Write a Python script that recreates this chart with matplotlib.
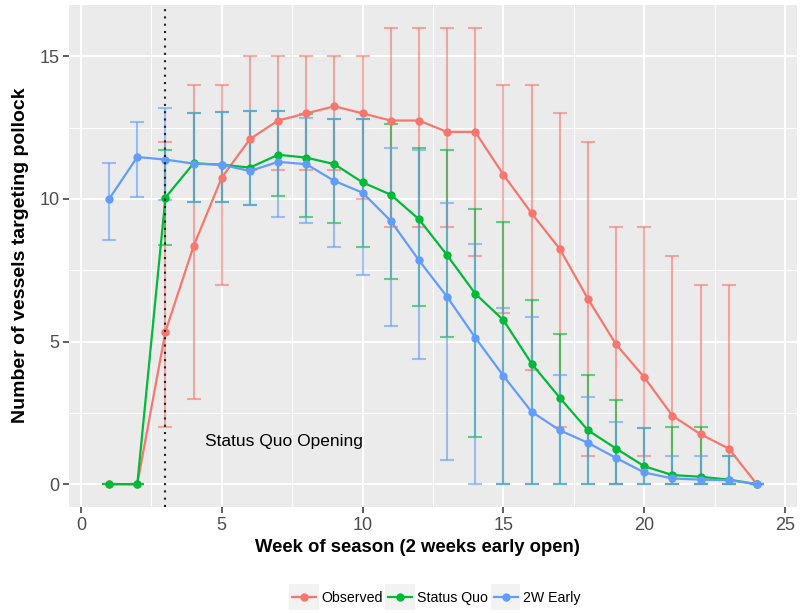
import matplotlib
matplotlib.use('Agg')
import matplotlib.pyplot as plt
from matplotlib.patches import Rectangle
from matplotlib.legend_handler import HandlerLine2D
from matplotlib.lines import Line2D

plt.rcParams['font.family'] = ['Liberation Sans', 'DejaVu Sans']

# ------------------------------------------------------------
# data
# ------------------------------------------------------------
weeks = list(range(1, 25))

observed = [0, 0, 5.35, 8.35, 10.75, 12.1, 12.75, 13.0, 13.25, 13.0, 12.75, 12.75,
            12.35, 12.35, 10.85, 9.5, 8.25, 6.5, 4.9, 3.75, 2.4, 1.75, 1.25, 0]
observed_lo = [0, 0, 2, 3, 7, 11, 11, 11, 11, 10, 9, 9, 9, 8, 6, 4, 2, 1, 0, 1, 0, 0, 0, 0]
observed_hi = [0, 0, 12, 14, 14, 15, 15, 15, 15, 15, 16, 16, 16, 16, 14, 14, 13, 12, 9, 9, 8, 7, 7, 0]

status_quo = [0, 0, 10.05, 11.25, 11.2, 11.1, 11.55, 11.45, 11.22, 10.58, 10.15, 9.29,
              8.03, 6.68, 5.75, 4.23, 3.03, 1.89, 1.25, 0.63, 0.32, 0.26, 0.16, 0]
status_quo_lo = [0, 0, 8.38, 9.9, 9.9, 9.78, 10.1, 9.35, 9.17, 8.3, 7.19, 6.24,
                 5.15, 1.64, 0, 0, 0, 0, 0, 0, 0, 0, 0, 0]
status_quo_hi = [0, 0, 11.7, 13.02, 13.05, 13.1, 13.07, 12.97, 12.79, 12.79, 12.64, 11.77,
                 11.71, 9.66, 9.19, 6.45, 5.25, 3.82, 2.94, 1.97, 2.0, 2.0, 1.0, 0]

early = [10.0, 11.47, 11.38, 11.24, 11.2, 10.98, 11.3, 11.22, 10.63, 10.22, 9.23, 7.85,
         6.57, 5.14, 3.8, 2.54, 1.89, 1.45, 0.92, 0.41, 0.2, 0.16, 0.14, 0]
early_lo = [8.55, 10.07, 9.98, 9.9, 9.9, 9.78, 9.37, 9.16, 8.3, 7.33, 5.55, 4.4,
            0.86, 0, 0, 0, 0, 0, 0, 0, 0, 0, 0, 0]
early_hi = [11.27, 12.69, 13.2, 13.02, 13.05, 13.1, 13.07, 12.85, 12.79, 12.79, 11.8, 11.71,
            9.86, 8.41, 6.16, 5.86, 3.82, 3.06, 2.18, 1.97, 1.0, 1.0, 1.0, 0]

series = [
    ('Observed', observed, observed_lo, observed_hi, '#F8766D'),
    ('Status Quo', status_quo, status_quo_lo, status_quo_hi, '#00BA38'),
    ('2W Early', early, early_lo, early_hi, '#619CFF'),
]

opening_week = 3
x_ticks = [0, 5, 10, 15, 20, 25]
y_ticks = [0, 5, 10, 15]


# legend key with the grey ggplot box behind it
class KeyHandler(HandlerLine2D):
    def create_artists(self, legend, orig_handle, xdescent, ydescent, width, height, fontsize, trans):
        box = Rectangle((-xdescent - 2, -ydescent - 6), width + 4, height + 12,
                        facecolor='#F2F2F2', edgecolor='none', transform=trans)
        arts = super().create_artists(legend, orig_handle, xdescent, ydescent, width, height, fontsize, trans)
        return [box] + list(arts)


fig = plt.figure(figsize=(8.01, 6.13), dpi=100)
ax = fig.add_axes([69 / 801, 1 - 507 / 613, 728 / 801, 502 / 613])
ax.set_facecolor('#EBEBEB')
for s in ax.spines.values():
    s.set_visible(False)

ax.set_xlim(-0.425, 25.425)
ax.set_ylim(-0.8, 16.8)
ax.set_xticks(x_ticks)
ax.set_yticks(y_ticks)
ax.set_xticks([2.5, 7.5, 12.5, 17.5, 22.5], minor=True)
ax.set_yticks([2.5, 7.5, 12.5], minor=True)
ax.grid(True, which='major', color='white', linewidth=1.4)
ax.grid(True, which='minor', color='white', linewidth=0.7)
ax.set_axisbelow(True)
ax.tick_params(which='major', length=4, width=1.1, color='#333333', labelsize=13,
               labelcolor='#4D4D4D', pad=3)
ax.tick_params(which='minor', length=0)

# error bars first, then lines and points
for name, vals, lo, hi, col in series:
    yerr = [[v - l for v, l in zip(vals, lo)], [h - v for v, h in zip(vals, hi)]]
    ax.errorbar(weeks, vals, yerr=yerr, fmt='none', ecolor=col, alpha=0.6,
                elinewidth=1.5, capsize=5, capthick=1.5, zorder=2)

handles = []
for name, vals, lo, hi, col in series:
    ln, = ax.plot(weeks, vals, color=col, linewidth=1.6, marker='o', markersize=6,
                  markeredgewidth=0, zorder=3, label=name)
    handles.append(ln)

ax.axvline(opening_week, color='#222222', linestyle=(0, (1, 2.5)), linewidth=1.5, zorder=4)
ax.text(7.2, 1.5, 'Status Quo Opening', fontsize=12.5, ha='center', va='center', color='black')

ax.set_xlabel('Week of season (2 weeks early open)', fontsize=13.3, fontweight='bold')
ax.set_ylabel('Number of vessels targeting pollock', fontsize=14, fontweight='bold')
ax.xaxis.set_label_coords((417.5 - 69) / 728, -(548 - 507) / 502)
ax.yaxis.set_label_coords(-(69 - 21) / 728, (507 - 255) / 502)
ax.xaxis.label.set_va('center')
ax.yaxis.label.set_va('center')

keys = [Line2D([], [], color=h.get_color(), linewidth=1.6, marker='o', markersize=6,
               markeredgewidth=0) for h in handles]
fig.legend(keys, [h.get_label() for h in handles], loc='center', ncol=3,
           bbox_to_anchor=(436 / 801, 1 - 598 / 613), frameon=False, fontsize=10.2,
           handlelength=1.7, handletextpad=0.35, columnspacing=0.4,
           handler_map={Line2D: KeyHandler()})

fig.savefig('out.png', dpi=100)
